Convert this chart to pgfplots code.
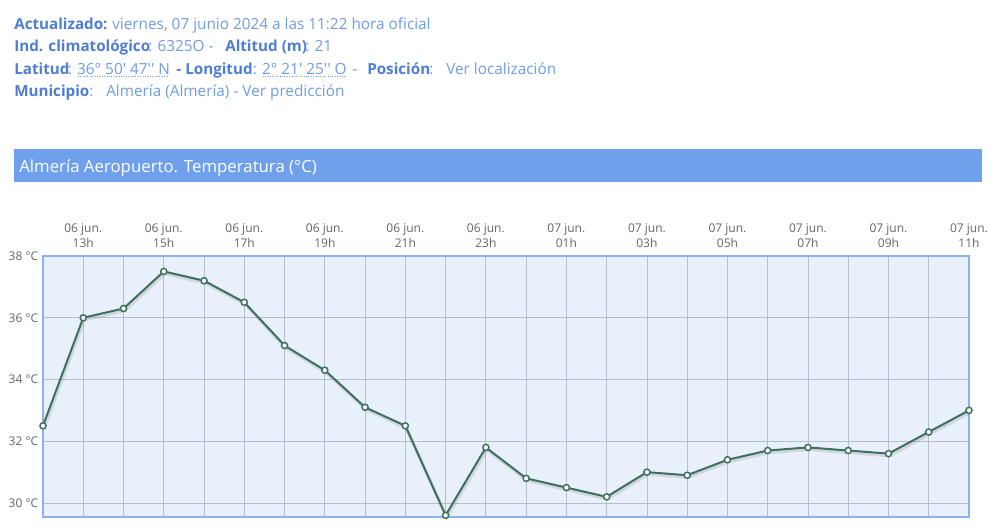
\documentclass[border=0pt]{standalone}
\usepackage{fontspec}
\setmainfont{Open Sans}
\newfontfamily\osf{Open Sans}
\usepackage{pgfplots}
\pgfplotsset{compat=1.18}
\definecolor{labelblue}{HTML}{4D7ED3}
\definecolor{valueblue}{HTML}{6F9DE6}
\definecolor{band}{HTML}{6FA0EC}
\definecolor{border}{HTML}{8EB1EE}
\definecolor{plotbg}{HTML}{E8F0FB}
\definecolor{gridc}{HTML}{B7BFCF}
\definecolor{linec}{HTML}{3F705D}
\definecolor{tickgray}{HTML}{666666}
\pgfplotstableread{
h t
0 32.5
1 36.0
2 36.3
3 37.5
4 37.2
5 36.5
6 35.1
7 34.3
8 33.1
9 32.5
10 29.6
11 31.8
12 30.8
13 30.5
14 30.2
15 31.0
16 30.9
17 31.4
18 31.7
19 31.8
20 31.7
21 31.6
22 32.3
23 33.0
}\temps
\newcommand\dotul[1]{\setbox0=\hbox{#1}\rlap{\raisebox{-2.4pt}{\hbox to \wd0{\leaders\hbox to 1.8pt{\hss\rule{0.8pt}{0.6pt}\hss}\hfill}}}\box0}
\begin{document}
\begin{tikzpicture}
\path[use as bounding box, fill=white] (0,0) rectangle (742.5pt,-396.75pt);
% header
\begin{scope}[x=0.75pt, y=-0.75pt,
  L/.style={anchor=base west, inner sep=0pt, text=labelblue, font=\osf\bfseries\fontsize{11.4}{12}\selectfont},
  V/.style={anchor=base west, inner sep=0pt, text=valueblue, font=\osf\fontsize{11.5}{12}\selectfont}]
\node[L] at (14,29) {Actualizado:};
\node[V] at (112,29) {viernes, 07 junio 2024 a las 11:22 hora oficial};
\node[L] at (14,51.5) {Ind. climatológico};
\node[V] at (148,51.5) {: 6325O -};
\node[L] at (225,51.5) {Altitud (m)};
\node[V] at (305,51.5) {: 21};
\node[L] at (14,74) {Latitud};
\node[V] at (67.5,74) {: \dotul{36° 50' 47'' N}};
\node[L] at (176,74) {-};
\node[L] at (185,74) {Longitud};
\node[V] at (252.5,74) {: \dotul{2° 21' 25'' O}};
\node[V] at (352,74) {-};
\node[L] at (367,74) {Posición};
\node[V] at (429,74) {:};
\node[V] at (446,74) {Ver localización};
\node[L] at (14,96) {Municipio};
\node[V] at (89,96) {:};
\node[V] at (106,96) {Almería (Almería) - Ver predicción};
\end{scope}
% title band
\fill[band] (10.5pt,-111.75pt) rectangle (736.5pt,-136.5pt);
\node[anchor=base west, inner sep=0pt, text=white, font=\osf\fontsize{12.6}{14}\selectfont] at (14.25pt,-129.3pt) {Almería Aeropuerto. Temperatura (°C)};
\begin{axis}[
  at={(32.25pt,-387.75pt)}, anchor=south west,
  scale only axis, width=694.5pt, height=195.75pt,
  xmin=0, xmax=23, ymin=29.547, ymax=38,
  xtick={1,3,...,23},
  minor xtick={0,2,...,22},
  xticklabels={{06 jun.\\13h},{06 jun.\\15h},{06 jun.\\17h},{06 jun.\\19h},{06 jun.\\21h},{06 jun.\\23h},{07 jun.\\01h},{07 jun.\\03h},{07 jun.\\05h},{07 jun.\\07h},{07 jun.\\09h},{07 jun.\\11h}},
  xticklabel pos=top,
  xticklabel style={align=center, text=tickgray, font=\fontsize{9}{11.25}\selectfont, yshift=3pt},
  ytick={30,32,34,36,38},
  yticklabels={30 °C,32 °C,34 °C,36 °C,38 °C},
  yticklabel style={text=tickgray, font=\fontsize{9}{11}\selectfont},
  major tick length=0pt, minor tick length=0pt,
  grid=both,
  major grid style={draw=gridc, line width=0.6pt},
  minor grid style={draw=gridc, line width=0.6pt},
  axis line style={draw=border, line width=1.5pt},
  axis background/.style={fill=plotbg},
  clip=false,
]
\addplot[draw=gray, opacity=0.22, line width=2.5pt, shift={(0.8pt,-1.5pt)}] table[x=h,y=t] {\temps};
\addplot[draw=linec, line width=1.5pt, mark=*, mark size=2.3pt, mark options={fill=white, draw=linec, line width=1.1pt}] table[x=h,y=t] {\temps};
\end{axis}
\end{tikzpicture}
\end{document}
